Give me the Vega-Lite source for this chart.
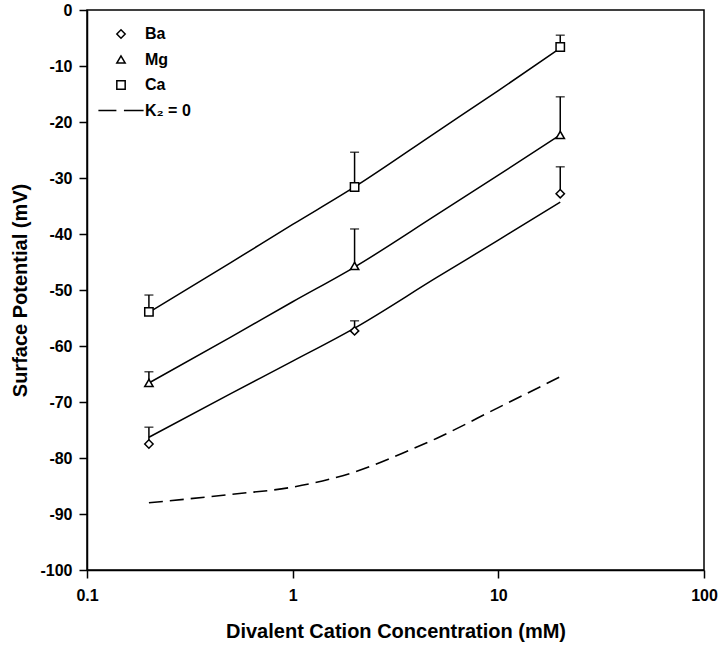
{
  "$schema": "https://vega.github.io/schema/vega-lite/v6.json",
  "width": 617,
  "height": 560,
  "autosize": {"type": "none"},
  "padding": {"left": 87, "top": 10, "right": 16, "bottom": 80},
  "background": "white",
  "config": {
    "font": "Liberation Sans",
    "view": {"stroke": "black", "strokeWidth": 1.5},
    "axis": {
      "domainColor": "black", "domainWidth": 1.5,
      "tickColor": "black", "tickWidth": 1.5, "tickSize": 8,
      "grid": false,
      "labelFont": "Liberation Sans", "labelFontWeight": "bold", "labelFontSize": 16, "labelColor": "black",
      "titleFont": "Liberation Sans", "titleFontWeight": "bold", "titleFontSize": 20, "titleColor": "black"
    }
  },
  "datasets": {
    "points": [
      {"series": "Ba", "conc": 0.2, "mv": -77.5, "upper": -74.5},
      {"series": "Ba", "conc": 2, "mv": -57.3, "upper": -55.5},
      {"series": "Ba", "conc": 20, "mv": -32.8, "upper": -28.0},
      {"series": "Mg", "conc": 0.2, "mv": -66.6, "upper": -64.6},
      {"series": "Mg", "conc": 2, "mv": -45.7, "upper": -39.1},
      {"series": "Mg", "conc": 20, "mv": -22.3, "upper": -15.5},
      {"series": "Ca", "conc": 0.2, "mv": -53.9, "upper": -50.9},
      {"series": "Ca", "conc": 2, "mv": -31.6, "upper": -25.4},
      {"series": "Ca", "conc": 20, "mv": -6.6, "upper": -4.5}
    ],
    "curves": [
      {"series": "Ba", "conc": 0.2, "mv": -76.3},
      {"series": "Ba", "conc": 0.5, "mv": -68.5},
      {"series": "Ba", "conc": 1, "mv": -62.7},
      {"series": "Ba", "conc": 2, "mv": -56.8},
      {"series": "Ba", "conc": 5, "mv": -47.8},
      {"series": "Ba", "conc": 10, "mv": -41.1},
      {"series": "Ba", "conc": 20, "mv": -34.3},
      {"series": "Mg", "conc": 0.2, "mv": -66.6},
      {"series": "Mg", "conc": 0.5, "mv": -58.4},
      {"series": "Mg", "conc": 1, "mv": -52.1},
      {"series": "Mg", "conc": 2, "mv": -45.9},
      {"series": "Mg", "conc": 5, "mv": -36.6},
      {"series": "Mg", "conc": 10, "mv": -29.5},
      {"series": "Mg", "conc": 20, "mv": -22.3},
      {"series": "Ca", "conc": 0.2, "mv": -54.0},
      {"series": "Ca", "conc": 0.5, "mv": -45.1},
      {"series": "Ca", "conc": 1, "mv": -38.3},
      {"series": "Ca", "conc": 2, "mv": -31.6},
      {"series": "Ca", "conc": 5, "mv": -21.8},
      {"series": "Ca", "conc": 10, "mv": -14.4},
      {"series": "Ca", "conc": 20, "mv": -6.8},
      {"series": "K2", "conc": 0.2, "mv": -88.0},
      {"series": "K2", "conc": 0.5, "mv": -86.5},
      {"series": "K2", "conc": 1, "mv": -85.2},
      {"series": "K2", "conc": 2, "mv": -82.5},
      {"series": "K2", "conc": 3.6, "mv": -78.8},
      {"series": "K2", "conc": 5, "mv": -76.5},
      {"series": "K2", "conc": 10, "mv": -71.0},
      {"series": "K2", "conc": 20, "mv": -65.5}
    ]
  },
  "encoding": {
    "x": {
      "field": "conc", "type": "quantitative",
      "scale": {"type": "log", "domain": [0.1, 100], "nice": false},
      "axis": {"values": [0.1, 1, 10, 100], "format": "~g", "labelPadding": 9, "titlePadding": 18, "title": "Divalent Cation Concentration (mM)", "labelFlush": false}
    },
    "y": {
      "field": "mv", "type": "quantitative",
      "scale": {"domain": [-100, 0], "nice": false, "zero": false},
      "axis": {"values": [0, -10, -20, -30, -40, -50, -60, -70, -80, -90, -100], "labelExpr": "'' + datum.value", "labelPadding": 7, "titlePadding": 9, "title": "Surface Potential (mV)"}
    }
  },
  "layer": [
    {
      "data": {"name": "curves"},
      "transform": [{"filter": "datum.series != 'K2'"}],
      "mark": {"type": "line", "color": "black", "strokeWidth": 1.5, "interpolate": "monotone"},
      "encoding": {"detail": {"field": "series"}}
    },
    {
      "data": {"name": "curves"},
      "transform": [{"filter": "datum.series == 'K2'"}],
      "mark": {"type": "line", "color": "black", "strokeWidth": 1.6, "strokeDash": [14, 7], "interpolate": "monotone"},
      "encoding": {}
    },
    {
      "data": {"name": "points"},
      "mark": {"type": "rule", "color": "black", "strokeWidth": 1.5},
      "encoding": {"y2": {"field": "upper"}}
    },
    {
      "data": {"name": "points"},
      "mark": {"type": "tick", "orient": "horizontal", "color": "black", "size": 9, "thickness": 1.5},
      "encoding": {"y": {"field": "upper", "type": "quantitative"}}
    },
    {
      "data": {"name": "points"},
      "mark": {"type": "point", "filled": true, "fill": "white", "stroke": "black", "strokeWidth": 1.5, "size": 70, "opacity": 1},
      "encoding": {
        "shape": {
          "field": "series", "type": "nominal",
          "scale": {"domain": ["Ba", "Mg", "Ca", "K₂ = 0"], "range": ["diamond", "triangle-up", "square", "M-5.4,0H-1.1M0.7,0H5.4"]},
          "legend": {
            "title": null, "orient": "none", "legendX": 26, "legendY": 16,
            "padding": 0, "rowPadding": 9.5, "symbolSize": 70,
            "labelFont": "Liberation Sans", "labelFontWeight": "bold", "labelFontSize": 16, "labelColor": "black",
            "labelOffset": 16,
            "encode": {
              "symbols": {"update": {"stroke": {"value": "black"}, "fill": {"value": "white"}, "strokeWidth": {"value": 1.5}, "opacity": {"value": 1}}}
            }
          }
        }
      }
    }
  ]
}
